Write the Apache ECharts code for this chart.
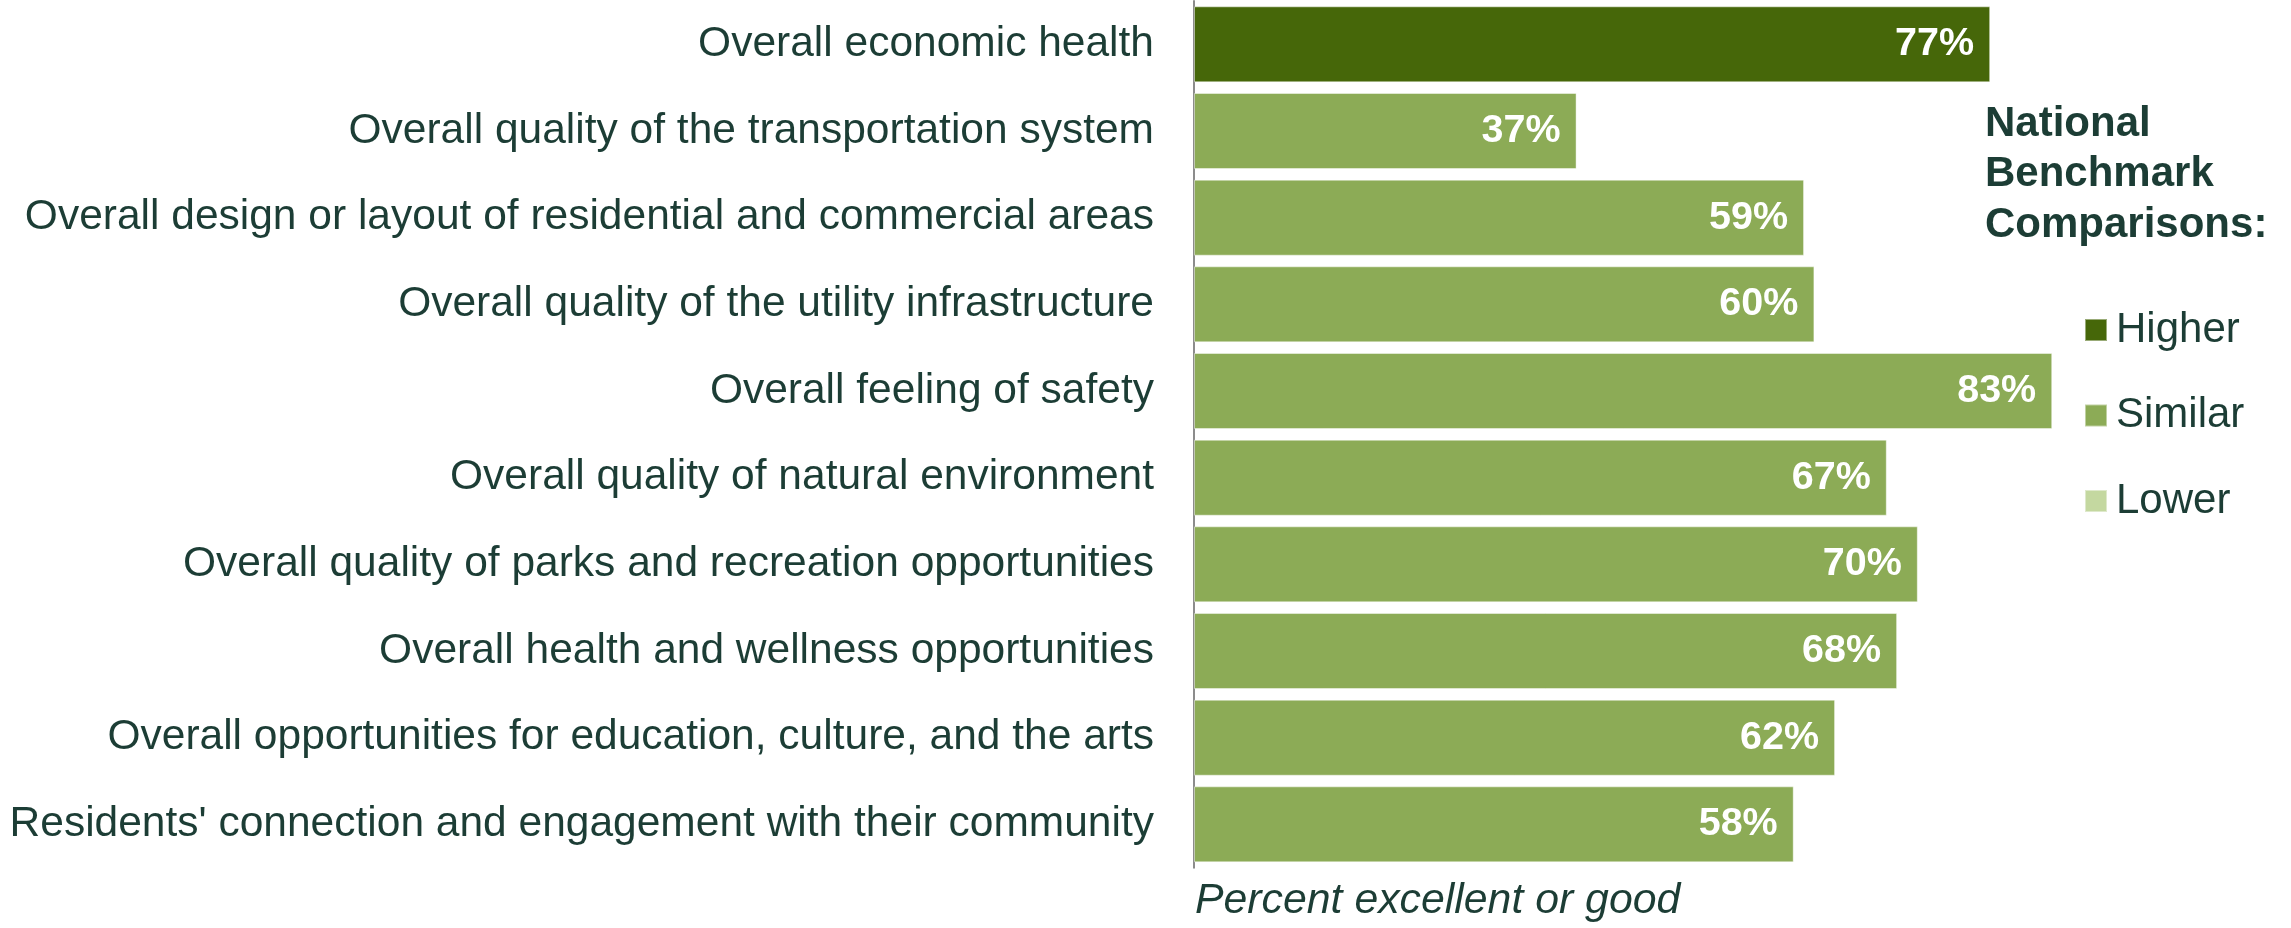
<!DOCTYPE html>
<html>
<head>
<meta charset="utf-8">
<script src="https://cdn.jsdelivr.net/npm/echarts@6/dist/echarts.min.js"></script>
<style>
  html, body { margin: 0; padding: 0; background: #ffffff; }
  #chart { width: 2291px; height: 928px; }
</style>
</head>
<body>
<div id="chart"></div>
<script>
const categories = [
  "Overall economic health",
  "Overall quality of the transportation system",
  "Overall design or layout of residential and commercial areas",
  "Overall quality of the utility infrastructure",
  "Overall feeling of safety",
  "Overall quality of natural environment",
  "Overall quality of parks and recreation opportunities",
  "Overall health and wellness opportunities",
  "Overall opportunities for education, culture, and the arts",
  "Residents' connection and engagement with their community"
];
const values = [77, 37, 59, 60, 83, 67, 70, 68, 62, 58];
const comparison = ["Higher", "Similar", "Similar", "Similar", "Similar", "Similar", "Similar", "Similar", "Similar", "Similar"];
const levels = ["Higher", "Similar", "Lower"];
const levelColors = { Higher: "#466709", Similar: "#8cab56", Lower: "#c4d8a0" };

const FONT = "'Liberation Sans', Arial, Helvetica, sans-serif";
const TEXT = "#1c3d35";

const series = levels.map(lv => ({
  name: lv,
  type: "bar",
  barGap: "-100%",
  barCategoryGap: "12.3%",
  itemStyle: { color: levelColors[lv], borderColor: "rgba(255,255,255,0.45)", borderWidth: 1 },
  label: {
    show: true,
    position: "insideRight",
    distance: 16,
    color: "#ffffff",
    fontFamily: FONT,
    fontWeight: "bold",
    fontSize: 39.5,
    formatter: p => p.value + "%"
  },
  emphasis: { disabled: true },
  data: values.map((v, i) => comparison[i] === lv ? v : null)
}));

const chart = echarts.init(document.getElementById("chart"), null, { renderer: "canvas" });
chart.setOption({
  animation: false,
  backgroundColor: "#ffffff",
  title: [
    {
      text: "Percent excellent or good",
      left: 1195,
      top: 880,
      padding: 0,
      textStyle: { fontFamily: FONT, fontStyle: "italic", fontWeight: "normal", fontSize: 42.8, color: TEXT }
    },
    {
      text: "National\nBenchmark\nComparisons:",
      left: 1985,
      top: 99,
      padding: 0,
      textStyle: { fontFamily: FONT, fontWeight: "bold", fontSize: 42, lineHeight: 50.5, color: TEXT }
    }
  ],
  legend: {
    orient: "vertical",
    left: 2084,
    top: 309,
    padding: 0,
    itemWidth: 22,
    itemHeight: 22,
    itemGap: 43.5,
    icon: "rect",
    selectedMode: false,
    data: levels,
    textStyle: { fontFamily: FONT, fontSize: 42, color: TEXT, padding: [0, 0, 0, 4] }
  },
  grid: { left: 1194, right: 63, top: 1, bottom: 60.3, containLabel: false },
  xAxis: {
    type: "value",
    min: 0,
    max: 100,
    show: false
  },
  yAxis: {
    type: "category",
    inverse: true,
    data: categories,
    axisLine: { show: true, lineStyle: { color: "#8c8c8c", width: 2 } },
    axisTick: { show: false },
    axisLabel: { margin: 40, fontFamily: FONT, fontSize: 42.5, color: TEXT }
  },
  series: series
});
</script>
</body>
</html>
